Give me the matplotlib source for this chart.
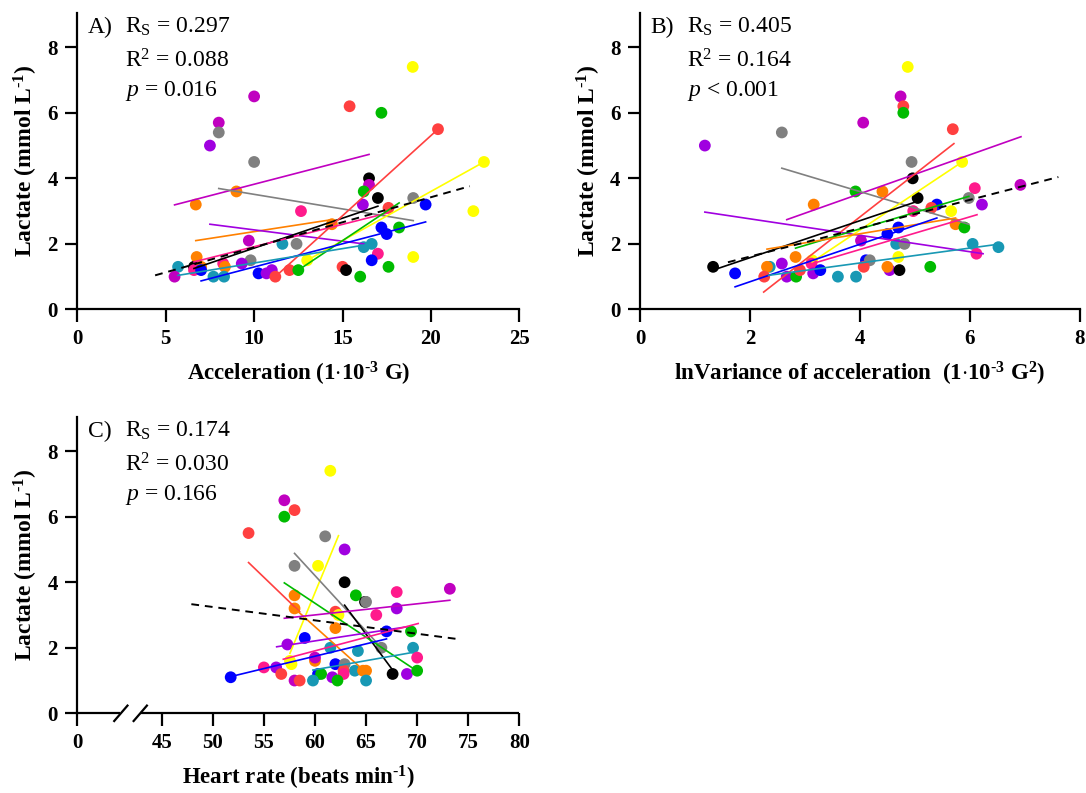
import matplotlib
matplotlib.use('Agg')
import matplotlib.pyplot as plt

plt.rcParams['font.family'] = ['Liberation Serif', 'DejaVu Serif']
plt.rcParams['mathtext.fontset'] = 'custom'
plt.rcParams['mathtext.rm'] = 'Liberation Serif'
plt.rcParams['mathtext.it'] = 'Liberation Serif:italic'
plt.rcParams['mathtext.bf'] = 'Liberation Serif:bold'

# subject colours
COLORS = {
    'black': '#000000', 'blue': '#0000ff', 'red': '#ff4040', 'green': '#00bb00',
    'yellow': '#ffff00', 'orange': '#ff8000', 'magenta': '#c000c0',
    'violet': '#a000e0', 'gray': '#808080', 'teal': '#1898b4', 'pink': '#ff1a8c',
}

# ---- Panel A: acceleration ----
a_x = [18.97, 10.0, 15.4, 17.2, 20.4, 8.0, 8.0, 7.5, 10.0, 23.0, 16.5, 16.5, 16.2, 9.0,
       17.0, 19.0, 6.7, 16.15, 19.7, 17.6, 12.65, 22.4, 14.4, 17.2, 18.2, 17.5, 9.7, 11.6,
       12.4, 16.2, 16.65, 17.0, 6.75, 13.0, 19.0, 9.8, 16.65, 5.7, 6.6, 7.0, 9.3, 8.25,
       8.35, 15.0, 15.2, 17.6, 5.5, 6.6, 7.0, 7.7, 8.3, 10.25, 10.7, 11.0, 11.2, 12.0,
       12.5, 16.0]
a_y = [7.4, 6.5, 6.2, 6.0, 5.5, 5.7, 5.4, 5.0, 4.5, 4.5, 4.0, 3.8, 3.6, 3.6,
       3.4, 3.4, 3.2, 3.2, 3.2, 3.1, 3.0, 3.0, 2.6, 2.5, 2.5, 2.3, 2.1, 2.0,
       2.0, 1.9, 2.0, 1.7, 1.6, 1.5, 1.6, 1.5, 1.5, 1.3, 1.3, 1.3, 1.4, 1.4,
       1.3, 1.3, 1.2, 1.3, 1.0, 1.2, 1.2, 1.0, 1.0, 1.1, 1.1, 1.2, 1.0, 1.2,
       1.2, 1.0]
a_c = ['yellow', 'magenta', 'red', 'green', 'red', 'magenta', 'gray', 'violet', 'gray', 'yellow',
       'black', 'magenta', 'green', 'orange', 'black', 'gray', 'orange', 'violet', 'blue', 'red',
       'pink', 'yellow', 'orange', 'blue', 'green', 'blue', 'magenta', 'teal', 'gray', 'teal',
       'teal', 'pink', 'orange', 'yellow', 'yellow', 'gray', 'blue', 'teal', 'black', 'orange',
       'violet', 'pink', 'orange', 'red', 'black', 'green', 'magenta', 'pink', 'blue', 'teal',
       'teal', 'blue', 'violet', 'violet', 'red', 'red', 'green', 'green']
# per-subject fit lines: colour, (x start, x end), (y start, y end)
a_fit_c = ['magenta', 'gray', 'orange', 'violet', 'black', 'pink', 'red', 'yellow',
           'green', 'blue', 'teal']
a_fit_x = [(5.5, 16.5), (8.0, 19.0), (6.7, 14.4), (7.5, 16.2), (6.6, 17.0), (6.6, 17.6),
           (11.2, 20.4), (13.0, 23.0), (12.5, 18.2), (7.0, 19.7), (5.7, 16.65)]
a_fit_y = [(3.19, 4.73), (3.69, 2.71), (2.1, 2.74), (2.6, 2.0), (1.25, 3.15), (1.45, 2.95),
           (1.0, 5.5), (1.5, 4.5), (1.2, 3.25), (0.87, 2.67), (1.04, 2.0)]
a_all_x = (4.4, 22.2)
a_all_y = (1.04, 3.76)

# ---- Panel B: ln variance of acceleration ----
b_x = [4.87, 4.74, 4.79, 4.79, 5.69, 4.06, 2.58, 1.18, 4.94, 5.86, 4.96, 6.92, 3.92, 4.41,
       6.09, 5.05, 5.98, 3.16, 5.40, 6.22, 4.97, 5.30, 5.66, 5.74, 5.90, 4.70, 4.50, 4.02,
       4.66, 4.81, 6.05, 6.52, 6.12, 2.83, 3.13, 4.70, 4.11, 4.18, 1.33, 1.73, 2.36, 2.31,
       2.58, 2.26, 2.67, 2.84, 2.91, 3.12, 3.15, 3.28, 3.60, 3.93, 4.07, 4.54, 4.50, 4.72,
       5.28]
b_y = [7.4, 6.5, 6.2, 6.0, 5.5, 5.7, 5.4, 5.0, 4.5, 4.5, 4.0, 3.8, 3.6, 3.6,
       3.7, 3.4, 3.4, 3.2, 3.2, 3.2, 3.0, 3.1, 3.0, 2.6, 2.5, 2.5, 2.3, 2.1,
       2.0, 2.0, 2.0, 1.9, 1.7, 1.6, 1.5, 1.6, 1.5, 1.5, 1.3, 1.1, 1.3, 1.3,
       1.4, 1.0, 1.0, 1.0, 1.2, 1.4, 1.1, 1.2, 1.0, 1.0, 1.3, 1.2, 1.3, 1.2,
       1.3]
b_c = ['yellow', 'magenta', 'red', 'green', 'red', 'magenta', 'gray', 'violet', 'gray', 'yellow',
       'black', 'magenta', 'green', 'orange', 'pink', 'black', 'gray', 'orange', 'blue', 'violet',
       'pink', 'red', 'yellow', 'orange', 'green', 'blue', 'blue', 'magenta', 'teal', 'gray',
       'teal', 'teal', 'pink', 'orange', 'yellow', 'yellow', 'blue', 'gray', 'black', 'blue',
       'teal', 'orange', 'violet', 'red', 'violet', 'green', 'red', 'pink', 'violet', 'blue',
       'teal', 'teal', 'red', 'violet', 'orange', 'black', 'green']
b_fit_c = ['violet', 'magenta', 'gray', 'red', 'yellow', 'black', 'green', 'orange',
           'blue', 'pink', 'teal']
b_fit_x = [(1.18, 6.24), (2.67, 6.93), (2.58, 5.98), (2.25, 5.71), (3.13, 5.86), (1.33, 5.05),
           (2.83, 5.98), (2.31, 5.74), (1.73, 5.40), (3.16, 6.13), (2.34, 6.52)]
b_fit_y = [(2.97, 1.70), (2.74, 5.27), (4.31, 2.6), (0.53, 5.06), (1.45, 4.5), (1.2, 3.3),
           (1.87, 3.45), (1.84, 2.79), (0.69, 2.79), (1.41, 2.89), (1.04, 1.99)]
b_all_x = (1.6, 7.61)
b_all_y = (1.44, 4.04)

# ---- Panel C: heart rate ----
c_x = [61.5, 57.0, 58.0, 57.0, 53.5, 61.0, 62.9, 58.0, 60.3, 62.9, 64.0, 58.0, 68.0, 73.2,
       64.9, 65.0, 58.0, 68.0, 62.0, 62.3, 66.0, 62.0, 59.0, 67.0, 69.4, 57.3, 66.5, 61.5,
       64.2, 69.6, 70.0, 60.0, 60.0, 57.55, 57.7, 62.0, 62.9, 63.9, 64.7, 65.0, 62.8, 62.8,
       55.0, 56.2, 56.7, 51.75, 60.3, 60.6, 61.7, 67.6, 69.0, 70.0, 58.0, 58.5, 59.8, 62.2,
       65.0]
c_y = [7.4, 6.5, 6.2, 6.0, 5.5, 5.4, 5.0, 4.5, 4.5, 4.0, 3.6, 3.6, 3.7, 3.8,
       3.4, 3.4, 3.2, 3.2, 3.1, 3.0, 3.0, 2.6, 2.3, 2.5, 2.5, 2.1, 2.0, 2.0,
       1.9, 2.0, 1.7, 1.6, 1.7, 1.6, 1.5, 1.5, 1.5, 1.3, 1.3, 1.3, 1.3, 1.2,
       1.4, 1.4, 1.2, 1.1, 1.2, 1.2, 1.1, 1.2, 1.2, 1.3, 1.0, 1.0, 1.0, 1.0,
       1.0]
c_c = ['yellow', 'magenta', 'red', 'green', 'red', 'gray', 'violet', 'gray', 'yellow', 'black',
       'green', 'orange', 'pink', 'magenta', 'black', 'gray', 'orange', 'violet', 'red', 'yellow',
       'pink', 'orange', 'blue', 'blue', 'green', 'violet', 'gray', 'teal', 'teal', 'teal',
       'pink', 'orange', 'magenta', 'yellow', 'yellow', 'blue', 'gray', 'teal', 'orange', 'orange',
       'red', 'pink', 'pink', 'violet', 'red', 'blue', 'blue', 'green', 'violet', 'black',
       'violet', 'green', 'magenta', 'red', 'teal', 'green', 'teal']
c_fit_c = ['red', 'orange', 'yellow', 'gray', 'black', 'green', 'magenta', 'violet',
           'pink', 'blue', 'teal']
c_fit_x = [(53.5, 58.5), (58.0, 64.8), (57.55, 62.3), (58.0, 66.5), (62.9, 67.6), (57.0, 69.6),
           (57.0, 73.2), (56.25, 69.0), (56.9, 70.1), (51.75, 67.0), (59.8, 69.6)]
c_fit_y = [(4.6, 3.1), (3.2, 1.3), (1.83, 5.42), (4.88, 2.0), (3.3, 1.32), (3.98, 1.37),
           (2.9, 3.45), (2.03, 2.64), (1.65, 2.74), (1.12, 2.27), (1.32, 1.86)]
c_all_x = (47.9, 74.1)
c_all_y = (3.33, 2.26)

stats_a = ['0.297', '0.088', '= 0.016']
stats_b = ['0.405', '0.164', '< 0.001']
stats_c = ['0.174', '0.030', '= 0.166']

y_ticks = [0, 2, 4, 6, 8]
HY = '\u2010'  # short hyphen for the superscripts
ylabel = r'Lactate (mmol L$\mathbf{^{' + HY + r'1}}$)'


def style_axes(ax):
    for side in ['top', 'right']:
        ax.spines[side].set_visible(False)
    for side in ['left', 'bottom']:
        ax.spines[side].set_linewidth(1.6)
    ax.tick_params(direction='out', length=9, width=1.6, labelsize=15, pad=5)
    for lab in ax.get_xticklabels() + ax.get_yticklabels():
        lab.set_fontweight('bold')
    ax.set_ylim(0, 9.05)
    ax.set_yticks(y_ticks)
    ax.set_ylabel(ylabel, fontsize=17, fontweight='bold', labelpad=5)


def draw_panel(ax, xs, ys, cs, fit_c, fit_x, fit_y, all_x, all_y):
    ax.scatter(xs, ys, c=[COLORS[k] for k in cs], s=72, linewidths=0, zorder=2,
               clip_on=False)
    for col, fx, fy in zip(fit_c, fit_x, fit_y):
        ax.plot(fx, fy, color=COLORS[col], lw=1.2, zorder=3)
    ax.plot(all_x, all_y, color='black', lw=1.4, ls=(0, (4, 3)), zorder=4)


def add_stats(ax, letter, stats):
    kw = dict(transform=ax.transAxes, fontsize=17, va='baseline', ha='left')
    ax.text(0.024, 0.932, letter, **kw)
    ax.text(0.108, 0.932, r'R$_\mathrm{S}$ = ' + stats[0], **kw)
    ax.text(0.108, 0.815, r'R$^2$ = ' + stats[1], **kw)
    ax.text(0.108, 0.718, r'$p$ ' + stats[2], **kw)


fig = plt.figure(figsize=(10.86, 7.93), dpi=100)
axA = fig.add_axes([0.0712, 0.6098, 0.4070, 0.374])
axB = fig.add_axes([0.5893, 0.6098, 0.4050, 0.374])
axC = fig.add_axes([0.0712, 0.1005, 0.4070, 0.374])

# A
draw_panel(axA, a_x, a_y, a_c, a_fit_c, a_fit_x, a_fit_y, a_all_x, a_all_y)
axA.set_xlim(0, 25)
axA.set_xticks([0, 5, 10, 15, 20, 25])
style_axes(axA)
axA.set_xlabel(r'Acceleration (1$\cdot$10$\mathbf{^{' + HY + r'3}}$ G)', fontsize=16.5,
               fontweight='bold', labelpad=8)
add_stats(axA, 'A)', stats_a)

# B
draw_panel(axB, b_x, b_y, b_c, b_fit_c, b_fit_x, b_fit_y, b_all_x, b_all_y)
axB.set_xlim(0, 8)
axB.set_xticks([0, 2, 4, 6, 8])
style_axes(axB)
axB.set_xlabel(r'lnVariance of acceleration  (1$\cdot$10$\mathbf{^{' + HY +
               r'3}}$ G$\mathbf{^{2}}$)', fontsize=16.5, fontweight='bold', labelpad=8)
add_stats(axB, 'B)', stats_b)

# C: broken x axis, "0" placed just left of the break
zero_pos = 36.74
draw_panel(axC, c_x, c_y, c_c, c_fit_c, c_fit_x, c_fit_y, c_all_x, c_all_y)
axC.set_xlim(zero_pos, 80)
axC.set_xticks([zero_pos, 45, 50, 55, 60, 65, 70, 75, 80])
axC.set_xticklabels(['0', '45', '50', '55', '60', '65', '70', '75', '80'])
style_axes(axC)
axC.spines['bottom'].set_visible(False)
trans = axC.get_xaxis_transform()
axC.plot([zero_pos, 40.9], [0, 0], color='black', lw=1.6, transform=trans,
         clip_on=False, solid_capstyle='butt')
axC.plot([42.9, 80], [0, 0], color='black', lw=1.6, transform=trans,
         clip_on=False, solid_capstyle='butt')
for bx in (41.0, 42.9):
    axC.plot([bx - 0.65, bx + 0.65], [-0.026, 0.026], color='black', lw=1.6,
             transform=trans, clip_on=False)
axC.set_xlabel(r'Heart rate (beats min$\mathbf{^{' + HY + r'1}}$)', fontsize=16.5,
               fontweight='bold', labelpad=8)
add_stats(axC, 'C)', stats_c)

fig.savefig('out.png', dpi=100)
